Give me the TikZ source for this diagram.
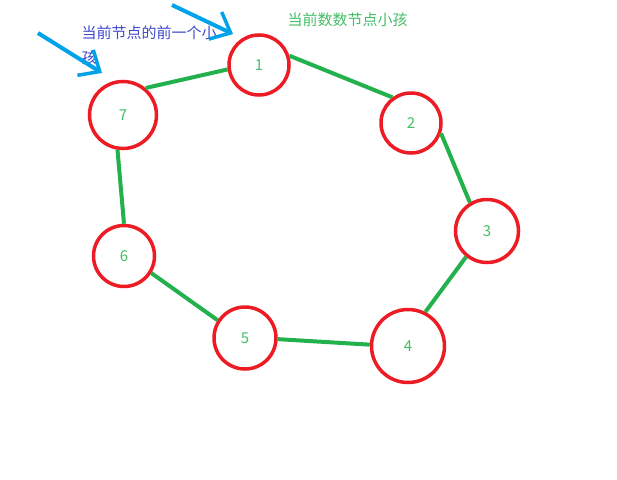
\documentclass[tikz,border=0pt]{standalone}
\usepackage{fontspec}
\newfontfamily\cjk{Noto Sans CJK SC}
\usetikzlibrary{arrows.meta}
\definecolor{kidred}{RGB}{237,28,36}
\definecolor{linkgreen}{RGB}{34,177,76}
\definecolor{markblue}{RGB}{0,162,232}
\definecolor{noteblue}{RGB}{63,72,204}
\tikzset{
  kid/.style={circle, draw=kidred, line width=3.5pt, text=linkgreen!85, font=\cjk\fontsize{15}{15}\selectfont, inner sep=0pt},
  link/.style={draw=linkgreen, line width=4pt},
  pointer/.style={draw=markblue, line width=4pt, -{Straight Barb[length=17pt,width=30pt,line width=3.5pt]}},
}
\begin{document}
\begin{tikzpicture}[x=1pt,y=-1pt]
\useasboundingbox (0,0) rectangle (617,479);
\node[kid, minimum size=60pt] (k1) at (259,65) {1};
\node[kid, minimum size=60pt] (k2) at (411,123) {2};
\node[kid, minimum size=63pt] (k3) at (487,231) {3};
\node[kid, minimum size=73pt] (k4) at (408,346) {4};
\node[kid, minimum size=62pt] (k5) at (245,338) {5};
\node[kid, minimum size=61pt] (k6) at (124,256) {6};
\node[kid, minimum size=67pt] (k7) at (123,115) {7};
\draw[link] (k7.50) to (k1.188);
\draw[link] (k1.17) to (k2.126);
\draw[link] (k2.341) to (k3.121);
\draw[link] (k3.231) to (k4.63);
\draw[link] (k4.178) to (k5.358);
\draw[link] (k5.147) to (k6.328);
\draw[link] (k6.90) to (k7.261);
\node[text=noteblue, font=\cjk\fontsize{15}{15}\selectfont, anchor=west] (prevnote) at (78,33) {当前节点的前一个小};
\node[text=noteblue, font=\cjk\fontsize{15}{15}\selectfont, anchor=west] (prevnote2) at (78,58) {孩};
\node[text=linkgreen!85, font=\cjk\fontsize{15}{15}\selectfont, anchor=west] (curnote) at (284,20) {当前数数节点小孩};
\coordinate (p1s) at (38,33);
\coordinate (p1e) at (102,73);
\coordinate (p2s) at (172,5);
\coordinate (p2e) at (233,34);
\draw[pointer] (p1s) to (p1e);
\draw[pointer] (p2s) to (p2e);
\end{tikzpicture}
\end{document}
